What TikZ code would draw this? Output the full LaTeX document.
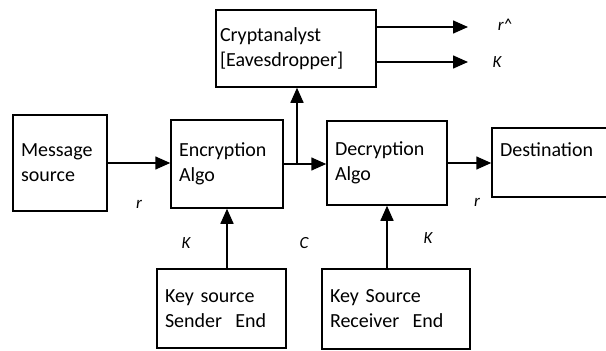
\documentclass[tikz,border=0pt]{standalone}
\usepackage{fontspec}
\setmainfont{Carlito}
\usetikzlibrary{arrows.meta}
\tikzset{
  blk/.style={draw,line width=1.5pt,align=left,inner xsep=8pt,inner ysep=0pt,
    font=\fontsize{20}{25}\selectfont},
  flow/.style={line width=1.5pt,-{Triangle[length=15pt,width=13pt]}},
  lbl/.style={font=\fontsize{17}{20}\selectfont\itshape}
}
\begin{document}
\begin{tikzpicture}[x=1pt,y=-1pt]
            \clip (0,0) rectangle (606,351);
            % boxes
            \node[blk,inner xsep=4pt,text width=152pt,minimum width=160pt,minimum height=77pt] (crypt) at (296,48.5) {Cryptanalyst\\{[}Eavesdropper{]}};
            \node[blk,text width=78pt,minimum width=94pt,minimum height=96pt] (msg) at (60,163) {Message\\source};
            \node[blk,text width=96pt,minimum width=112pt,minimum height=88pt] (enc) at (227,164) {Encryption\\Algo};
            \node[blk,text width=104pt,minimum width=120pt,minimum height=84pt] (dec) at (387,163) {Decryption\\Algo};
            \node[blk,text width=116pt,minimum width=132pt,minimum height=69pt] (dest) at (558,162.5) {Destination\\~};
            \node[blk,text width=113pt,minimum width=129pt,minimum height=79pt] (snd) at (221.5,308.5) {Key source\\Sender~~End};
            \node[blk,text width=132pt,minimum width=148pt,minimum height=80pt] (rcv) at (396,309) {Key Source\\Receiver~~End};
            % arrows
            \draw[flow] (msg.east) -- (msg.east -| enc.west);
            \draw[flow] (enc.east) -- (enc.east -| dec.west);
            \coordinate (tap) at (297,164);
            \draw[flow] (tap) -- (tap |- crypt.south);
            \draw[flow] (dec.east) -- (dec.east -| dest.west);
            \draw[flow] (enc.south |- snd.north) -- (enc.south);
            \draw[flow] (dec.south |- rcv.north) -- (dec.south);
            \coordinate (outr) at (468,27);
            \coordinate (outk) at (468,62);
            \draw[flow] (crypt.east |- outr) -- (outr);
            \draw[flow] (crypt.east |- outk) -- (outk);
            % labels
            \node[lbl] (rhat) at (505,25) {r\textasciicircum};
            \node[lbl] (khat) at (497,62) {K};
            \node[lbl] (r1) at (139,204) {r};
            \node[lbl] (k1) at (186,243) {K};
            \node[lbl] (c1) at (304,243) {C};
            \node[lbl] (k2) at (428,238) {K};
            \node[lbl] (r2) at (477,202) {r};
        \end{tikzpicture}
\end{document}
